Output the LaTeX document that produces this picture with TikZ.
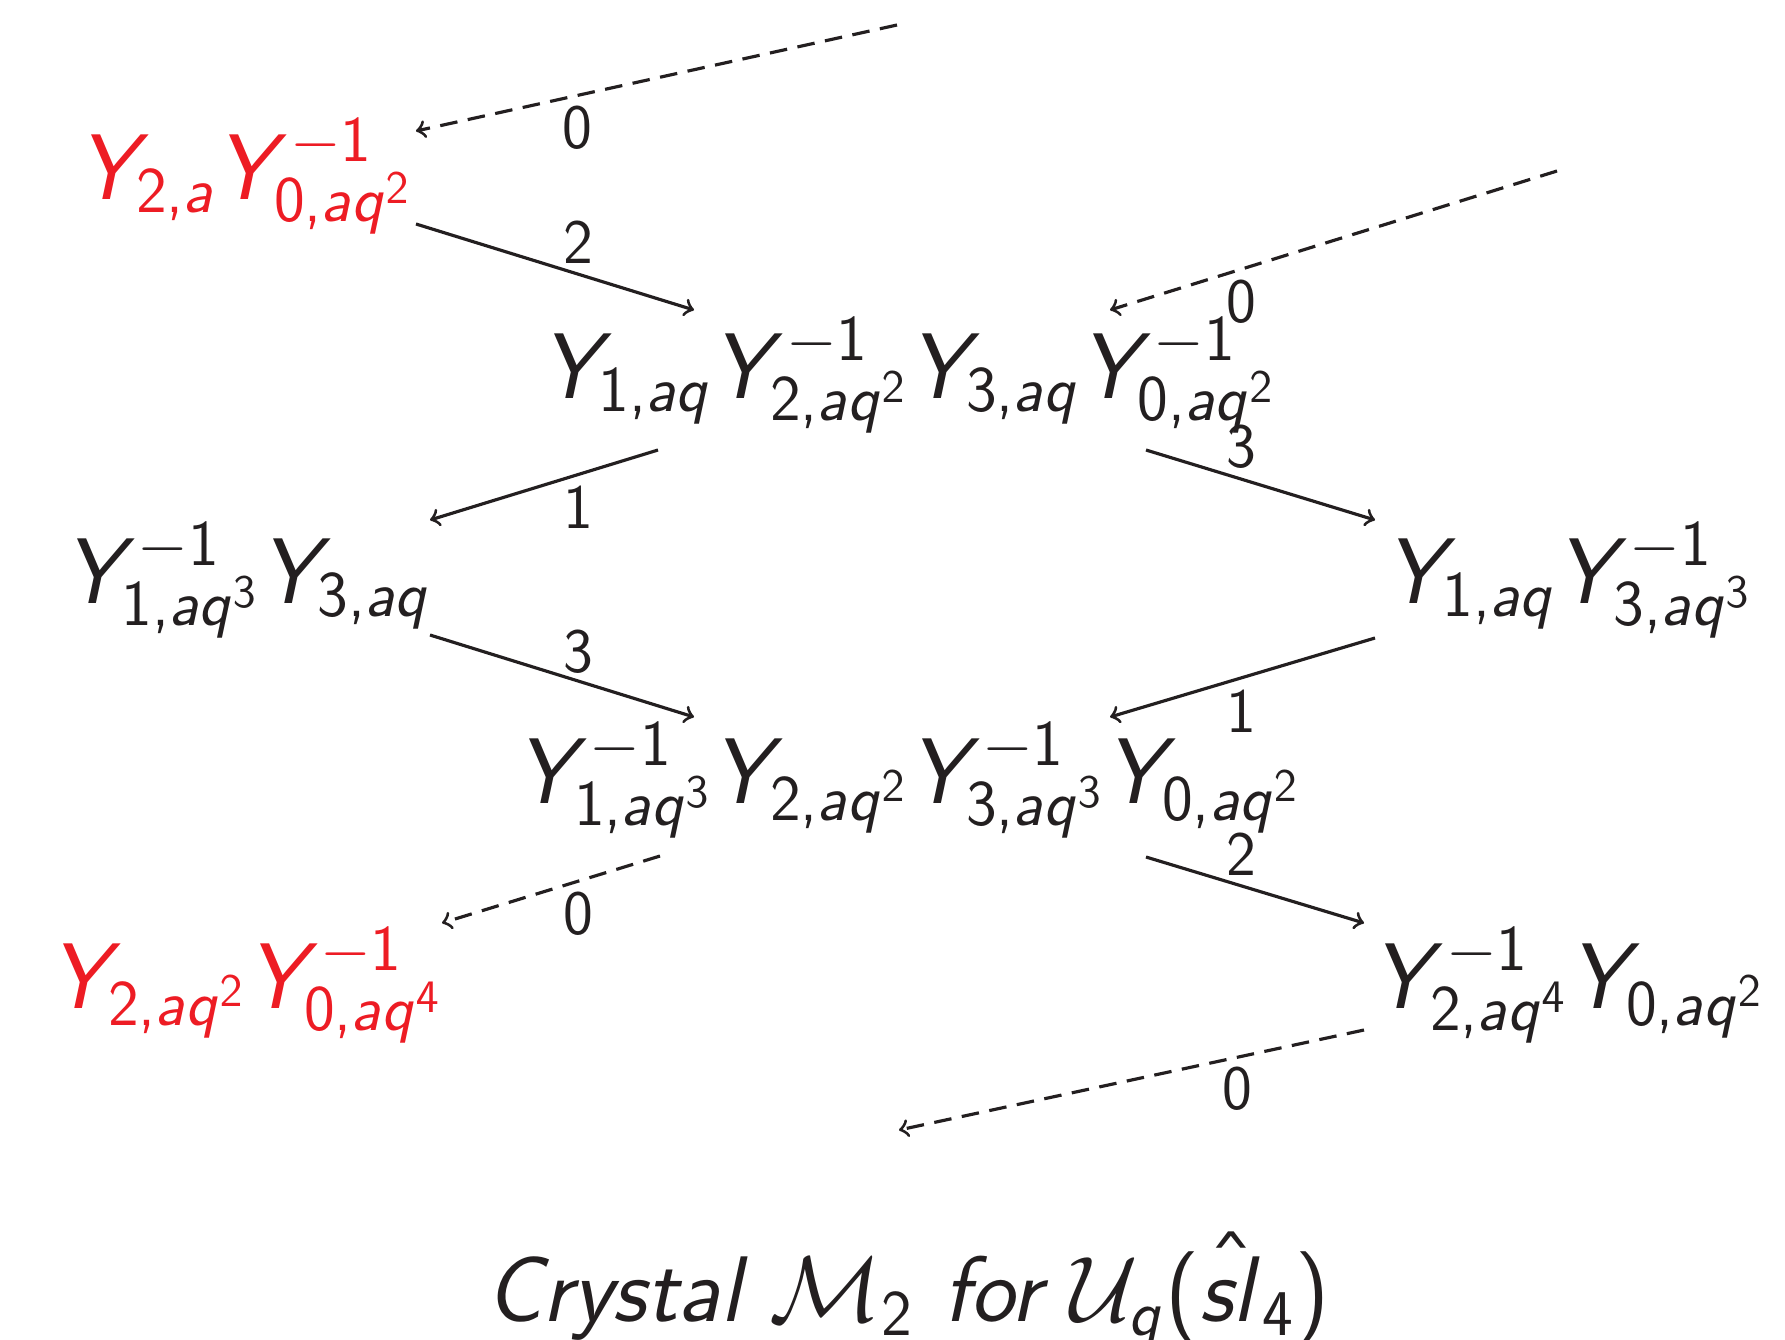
\documentclass[tikz,border=0pt]{standalone}
\usepackage{fix-cm}
\DeclareSymbolFont{operators}{OT1}{cmss}{m}{n}
\DeclareSymbolFont{letters}{OT1}{cmss}{m}{sl}
\mathcode`\,="602C
\definecolor{nodered}{HTML}{ED1C24}
\definecolor{ink}{HTML}{231F20}
\begin{document}
\begin{tikzpicture}[x=0.01cm,y=-0.01cm,
  crys/.style={inner sep=0pt,anchor=base,text=ink,font=\fontsize{26.5}{32}\selectfont},
  redcrys/.style={crys,text=nodered},
  lbl/.style={inner sep=0pt,text=ink,font=\fontsize{18}{22}\selectfont\sffamily},
  capt/.style={inner sep=0pt,anchor=base,text=ink,font=\fontsize{26.5}{32}\selectfont\sffamily\itshape},
  arr/.style={draw=ink,line width=0.9pt,->},
  darr/.style={arr,dash pattern=on 5pt off 3pt}]
\useasboundingbox (0,0) rectangle (1785,1339);

\node[redcrys] (A) at (245,199) {$Y_{2,a}Y^{-1}_{0,aq^2}$};
\node[crys] (B) at (908,398) {$Y_{1,aq}Y^{-1}_{2,aq^2}Y_{3,aq}Y^{-1}_{0,aq^2}$};
\node[crys] (C) at (247,603) {$Y^{-1}_{1,aq^3}Y_{3,aq}$};
\node[crys] (D) at (1568,603) {$Y_{1,aq}Y^{-1}_{3,aq^3}$};
\node[crys] (E) at (908,803) {$Y^{-1}_{1,aq^3}Y_{2,aq^2}Y^{-1}_{3,aq^3}Y_{0,aq^2}$};
\node[redcrys] (F) at (246,1008) {$Y_{2,aq^2}Y^{-1}_{0,aq^4}$};
\node[crys] (G) at (1568,1008) {$Y^{-1}_{2,aq^4}Y_{0,aq^2}$};

\coordinate (top0) at (897,25);
\coordinate (right0) at (1557,171);
\coordinate (bot0) at (899,1130);

\draw[darr] (top0) -- ([shift={(171,-68)}]A.base);
\draw[arr] ([shift={(171,25)}]A.base) -- ([shift={(-214,-88)}]B.base);
\draw[darr] (right0) -- ([shift={(202,-88)}]B.base);
\draw[arr] ([shift={(-250,52)}]B.base) -- ([shift={(183,-83)}]C.base);
\draw[arr] ([shift={(238,52)}]B.base) -- ([shift={(-193,-83)}]D.base);
\draw[arr] ([shift={(183,32)}]C.base) -- ([shift={(-214,-86)}]E.base);
\draw[arr] ([shift={(-193,35)}]D.base) -- ([shift={(202,-86)}]E.base);
\draw[darr] ([shift={(-248,53)}]E.base) -- ([shift={(196,-85)}]F.base);
\draw[arr] ([shift={(238,54)}]E.base) -- ([shift={(-204,-85)}]G.base);
\draw[darr] ([shift={(-204,22)}]G.base) -- (bot0);

\node[lbl] (l1) at (577,128) {0};
\node[lbl] (l2) at (578,242) {2};
\node[lbl] (l3) at (1241,302) {0};
\node[lbl] (l4) at (578,507) {1};
\node[lbl] (l5) at (1241,447) {3};
\node[lbl] (l6) at (578,652) {3};
\node[lbl] (l7) at (1241,711) {1};
\node[lbl] (l8) at (578,914) {0};
\node[lbl] (l9) at (1241,854) {2};
\node[lbl] (l10) at (1237,1089) {0};

\node[capt] (cap) at (908,1321) {Crystal $\mathcal{M}_2$ for $\mathcal{U}_q(\hat{sl}_4)$};
\end{tikzpicture}
\end{document}
